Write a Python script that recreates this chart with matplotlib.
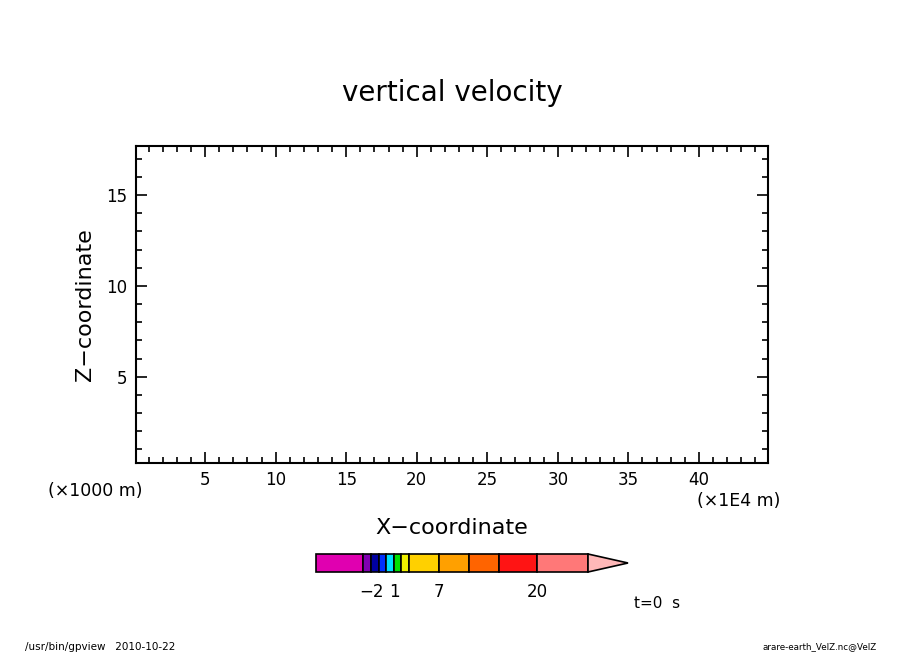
import matplotlib
matplotlib.use('Agg')
import matplotlib.pyplot as plt
from matplotlib.patches import Rectangle, Polygon
from matplotlib.ticker import MultipleLocator

# axis ranges (x in 1E4 m, z in 1000 m)
x_range = [0.1, 44.9]
z_range = [0.25, 17.7]
x_major = [5, 10, 15, 20, 25, 30, 35, 40]
z_major = [5, 10, 15]

# colour bar: relative segment widths, colours and labels at segment edges
cbar_widths = [47, 8.5, 7.5, 7.5, 7.5, 7.5, 8, 29.5, 30, 30, 38.5, 50.5]
cbar_colors = ['#e000b0', '#8000b0', '#0000a0', '#0030ff', '#00e0ff', '#00e000',
               '#f0f000', '#ffd000', '#ffa000', '#ff6400', '#ff1414', '#ff7878']
cbar_over = '#ffb8b8'
cbar_labels = {2: '\u22122', 5: '1', 8: '7', 11: '20'}

fig = plt.figure(figsize=(9.04, 6.54), dpi=100)
W, H = 904, 654

ax = fig.add_axes([136 / W, 1 - 463 / H, (768 - 136) / W, (463 - 146) / H])
ax.set_xlim(x_range)
ax.set_ylim(z_range)
ax.set_xticks(x_major)
ax.set_yticks(z_major)
ax.xaxis.set_minor_locator(MultipleLocator(1))
ax.yaxis.set_minor_locator(MultipleLocator(1))
ax.tick_params(which='both', direction='in', top=True, right=True, width=1.2,
               labelsize=12, pad=6)
ax.tick_params(which='major', length=8)
ax.tick_params(which='minor', length=4)
for s in ax.spines.values():
    s.set_linewidth(1.5)

fig.text(452 / W, 1 - 93 / H, 'vertical velocity', fontsize=20, ha='center', va='center')
fig.text(452 / W, 1 - 528 / H, 'X\u2212coordinate', fontsize=16, ha='center', va='center')
fig.text(85 / W, 1 - 305 / H, 'Z\u2212coordinate', fontsize=16, ha='center', va='center',
         rotation=90)
fig.text(95 / W, 1 - 491 / H, '(\u00d71000 m)', fontsize=12.5, ha='center', va='center')
fig.text(739 / W, 1 - 501 / H, '(\u00d71E4 m)', fontsize=12.5, ha='center', va='center')
fig.text(657 / W, 1 - 603 / H, 't=0  s', fontsize=11, ha='center', va='center')
fig.text(25 / W, 1 - 647 / H, '/usr/bin/gpview   2010-10-22', fontsize=7.5, ha='left', va='center')
fig.text(877 / W, 1 - 647 / H, 'arare-earth_VelZ.nc@VelZ', fontsize=6.3, ha='right', va='center')

# colour bar
total = sum(cbar_widths)
tri = 40
cax = fig.add_axes([316 / W, 1 - 572 / H, (total + tri) / W, 18 / H])
cax.set_xlim(0, total + tri)
cax.set_ylim(0, 1)
cax.axis('off')
x0 = 0
edges = [0]
for w, c in zip(cbar_widths, cbar_colors):
    cax.add_patch(Rectangle((x0, 0), w, 1, facecolor=c, edgecolor='black', lw=1.2,
                            clip_on=False))
    x0 += w
    edges.append(x0)
cax.add_patch(Polygon([(total, 0), (total, 1), (total + tri, 0.5)], closed=True,
                      facecolor=cbar_over, edgecolor='black', lw=1.2, clip_on=False))
for i, lab in cbar_labels.items():
    cax.text(edges[i], -0.6, lab, fontsize=12, ha='center', va='top')

plt.savefig('out.png', dpi=100)
plt.close()
